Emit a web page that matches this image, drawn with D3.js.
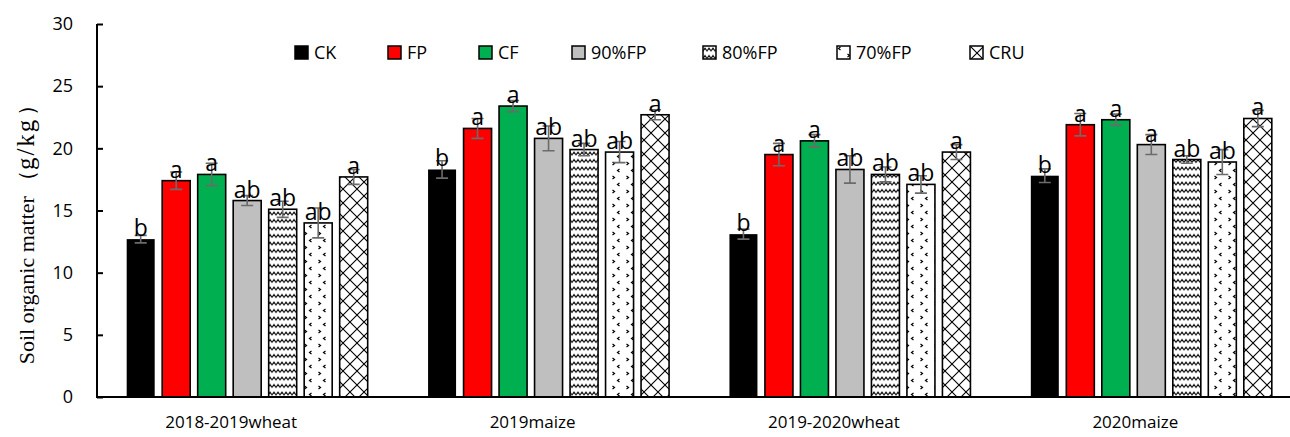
<!DOCTYPE html>
<html>
<head>
<meta charset="utf-8">
<script src="https://cdn.jsdelivr.net/npm/d3@7"></script>
<style>
  html, body { margin: 0; padding: 0; background: #fff; }
  svg { display: block; }
</style>
</head>
<body>
<svg id="chart" width="1290" height="437"></svg>
<script>
// Soil organic matter (g/kg) by season and fertilizer treatment
const seasons = ["2018-2019wheat", "2019maize", "2019-2020wheat", "2020maize"];
const treatments = ["CK", "FP", "CF", "90%FP", "80%FP", "70%FP", "CRU"];

// mean values, one array per season (order follows treatments)
const som2018wheat = [12.7, 17.4, 17.9, 15.8, 15.1, 14.0, 17.7];
const som2019maize = [18.3, 21.6, 23.4, 20.8, 19.9, 19.7, 22.7];
const som2019wheat = [13.1, 19.5, 20.6, 18.3, 17.9, 17.1, 19.7];
const som2020maize = [17.8, 21.9, 22.3, 20.3, 19.1, 18.9, 22.4];

// standard errors
const se2018wheat = [0.3, 0.7, 0.9, 0.4, 0.65, 1.2, 0.6];
const se2019maize = [0.7, 0.8, 0.45, 1.0, 0.5, 0.85, 0.4];
const se2019wheat = [0.4, 0.9, 0.5, 1.1, 0.6, 0.7, 0.6];
const se2020maize = [0.55, 0.9, 0.45, 0.8, 0.3, 1.0, 0.65];

// significance letters
const sig2018wheat = ["b", "a", "a", "ab", "ab", "ab", "a"];
const sig2019maize = ["b", "a", "a", "ab", "ab", "ab", "a"];
const sig2019wheat = ["b", "a", "a", "ab", "ab", "ab", "a"];
const sig2020maize = ["b", "a", "a", "a", "ab", "ab", "a"];

const yTicks = [0, 5, 10, 15, 20, 25, 30];

const means = [som2018wheat, som2019maize, som2019wheat, som2020maize];
const errors = [se2018wheat, se2019maize, se2019wheat, se2020maize];
const letters = [sig2018wheat, sig2019maize, sig2019wheat, sig2020maize];

const rows = [];
seasons.forEach((s, i) => treatments.forEach((t, j) => rows.push({
  season: s, treatment: t, value: means[i][j], se: errors[i][j], sig: letters[i][j]
})));

const W = 1290, H = 437;
const svg = d3.select("#chart");

const y = d3.scaleLinear().domain([0, 30]).range([397, 24]);
const x0 = d3.scaleBand().domain(seasons).range([96.5, 1302]);
const x1 = d3.scaleBand().domain(treatments).range([0, 241]).paddingInner(0.211);
const groupOffset = (x0.bandwidth() - x1.range()[1]) / 2;

// fill patterns
const defs = svg.append("defs");

const pZig = defs.append("pattern").attr("id", "pat-zigzag")
  .attr("patternUnits", "userSpaceOnUse").attr("width", 8).attr("height", 7.5);
pZig.append("rect").attr("width", 8).attr("height", 7.5).attr("fill", "#fff");
pZig.append("path").attr("d", "M0,5 L2,2 L4,5 L6,2 L8,5")
  .attr("fill", "none").attr("stroke", "#000").attr("stroke-width", 1.0);

const pDot = defs.append("pattern").attr("id", "pat-dots")
  .attr("patternUnits", "userSpaceOnUse").attr("width", 14).attr("height", 14);
pDot.append("rect").attr("width", 14).attr("height", 14).attr("fill", "#fff");
pDot.append("path").attr("d", "M3.5,1 L1.5,2.5 L3.5,4 M10.5,8 L12.5,9.5 L10.5,11")
  .attr("fill", "none").attr("stroke", "#000").attr("stroke-width", 1.2);

const pLat = defs.append("pattern").attr("id", "pat-lattice")
  .attr("patternUnits", "userSpaceOnUse").attr("width", 14).attr("height", 14);
pLat.append("rect").attr("width", 14).attr("height", 14).attr("fill", "#fff");
pLat.append("path").attr("d", "M0,0 L14,14 M14,0 L0,14")
  .attr("fill", "none").attr("stroke", "#000").attr("stroke-width", 1.1);

const fills = {
  "CK": "#000000", "FP": "#ff0000", "CF": "#00b050", "90%FP": "#bfbfbf",
  "80%FP": "url(#pat-zigzag)", "70%FP": "url(#pat-dots)", "CRU": "url(#pat-lattice)"
};

// bars
const bx = d => x0(d.season) + groupOffset + x1(d.treatment);
svg.append("g").selectAll("rect").data(rows).join("rect")
  .attr("x", bx)
  .attr("y", d => y(d.value))
  .attr("width", x1.bandwidth())
  .attr("height", d => y(0) - y(d.value))
  .attr("fill", d => fills[d.treatment])
  .attr("stroke", d => d.treatment === "CK" ? "none" : "#000")
  .attr("stroke-width", 1.6);

// error bars
const eb = svg.append("g").attr("stroke", "#6b6b6b").attr("stroke-width", 1.6).attr("fill", "none");
eb.selectAll("path").data(rows).join("path")
  .attr("d", d => {
    const cx = bx(d) + x1.bandwidth() / 2;
    const t = y(d.value + d.se), b = y(d.value - d.se);
    return `M${cx - 6},${t}H${cx + 6}M${cx},${t}V${b}M${cx - 6},${b}H${cx + 6}`;
  });

// significance letters
svg.append("g").selectAll("text").data(rows).join("text")
  .attr("x", d => bx(d) + x1.bandwidth() / 2)
  .attr("y", d => y(d.value) - 3)
  .attr("text-anchor", "middle")
  .attr("font-family", "Open Sans, sans-serif")
  .attr("font-size", 23)
  .attr("fill", "#000")
  .text(d => d.sig);

// y axis
const yAxis = svg.append("g").attr("transform", "translate(97,0)")
  .call(d3.axisLeft(y).tickValues(yTicks).tickSize(-6).tickPadding(24));
yAxis.select(".domain").attr("stroke", "#000").attr("stroke-width", 2).attr("d", `M0,${y(30)}V${y(0)}`);
yAxis.selectAll(".tick line").attr("stroke", "#000").attr("stroke-width", 2);
yAxis.selectAll(".tick text").attr("font-family", "Open Sans, sans-serif")
  .attr("font-size", 18).attr("fill", "#000");

// x axis baseline and category labels
svg.append("line").attr("x1", 96).attr("x2", W).attr("y1", y(0)).attr("y2", y(0))
  .attr("stroke", "#000").attr("stroke-width", 2);
svg.append("g").selectAll("text").data(seasons).join("text")
  .attr("x", d => x0(d) + x0.bandwidth() / 2 - 16)
  .attr("y", 428)
  .attr("text-anchor", "middle")
  .attr("font-family", "Open Sans, sans-serif")
  .attr("font-size", 17)
  .attr("fill", "#000")
  .text(d => d);

// y axis title
const yTitle = svg.append("text")
  .attr("transform", `translate(34,229) rotate(-90)`)
  .attr("text-anchor", "middle")
  .attr("font-family", "Liberation Serif, serif")
  .attr("font-size", 22)
  .attr("fill", "#000");
yTitle.append("tspan").text("Soil  organic matter");
yTitle.append("tspan").attr("dx", 4).text("（");
yTitle.append("tspan").attr("font-size", 25).attr("letter-spacing", 2).text("g/kg");
yTitle.append("tspan").attr("dx", 2).text("）");

// legend
const legendX = [295, 388, 479, 572, 703, 837, 970];
const lg = svg.append("g").selectAll("g").data(treatments).join("g")
  .attr("transform", (d, i) => `translate(${legendX[i]},46)`);
lg.append("rect").attr("width", 13).attr("height", 13)
  .attr("fill", d => fills[d]).attr("stroke", "#000").attr("stroke-width", 1.5);
lg.append("text").attr("x", 19).attr("y", 13)
  .attr("font-family", "Open Sans, sans-serif").attr("font-size", 18).attr("fill", "#000")
  .text(d => d);
</script>
</body>
</html>
